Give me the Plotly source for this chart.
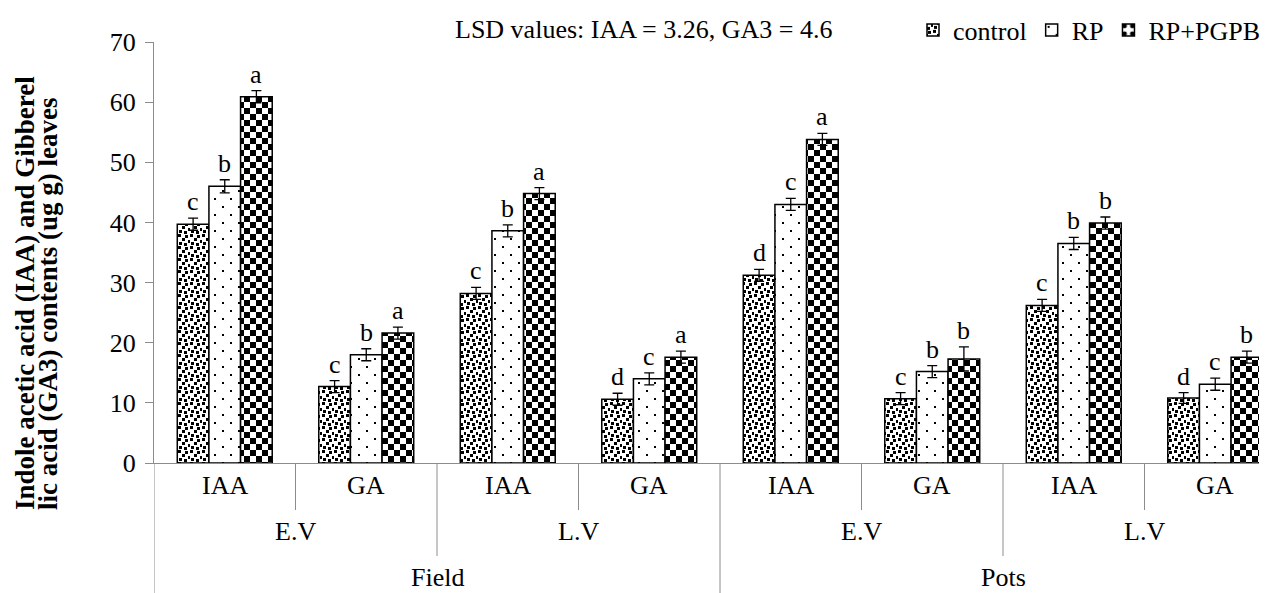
import json
import plotly.graph_objects as go

# ---------------- data ----------------
hormones = ["IAA", "GA", "IAA", "GA", "IAA", "GA", "IAA", "GA"]
varieties = ["E.V", "L.V", "E.V", "L.V"]
sites = ["Field", "Pots"]
series_names = ["control", "RP", "RP+PGPB"]

control = [39.7, 12.7, 28.2, 10.6, 31.2, 10.7, 26.2, 10.8]
rp = [46.0, 18.0, 38.6, 14.0, 43.0, 15.2, 36.5, 13.1]
rp_pgpb = [60.9, 21.6, 44.8, 17.6, 53.8, 17.3, 39.9, 17.6]

control_err = [1.0, 1.0, 1.0, 1.0, 1.0, 1.0, 1.0, 0.9]
rp_err = [1.1, 1.0, 1.0, 1.0, 1.0, 1.0, 1.0, 1.0]
rp_pgpb_err = [1.0, 1.0, 1.0, 1.0, 1.0, 2.0, 1.0, 1.0]

control_letters = ["c", "c", "c", "d", "d", "c", "c", "d"]
rp_letters = ["b", "b", "b", "c", "c", "b", "b", "c"]
rp_pgpb_letters = ["a", "a", "a", "a", "a", "b", "b", "b"]

lsd_text = "LSD values: IAA = 3.26, GA3 = 4.6"
ytitle_lines = ["Indole acetic acid (IAA) and Gibberel", "lic acid (GA3) contents (ug g) leaves"]

# ---------------- styling ----------------
FONT = "Liberation Serif, Times New Roman, serif"
FS = 26
W, H = 1267, 593
ML, MT, MB = 146, 34, 138
BARGAP = 0.329
GRAY = "#8c8c8c"

plot_h = H - MT - MB
plot_w = W - ML
x = list(range(len(hormones)))
xmax = -0.5 + plot_w / 141.5

def py(px):
    """pixel row -> paper y"""
    return (H - MB - px) / plot_h

def pxx(px):
    """pixel column -> paper x"""
    return (px - ML) / plot_w

series = [
    (series_names[0], control, control_err, control_letters, 7),
    (series_names[1], rp, rp_err, rp_letters, 9),
    (series_names[2], rp_pgpb, rp_pgpb_err, rp_pgpb_letters, 11),
]

fig = go.Figure()
for name, vals, errs, letters, psize in series:
    fig.add_trace(go.Bar(
        x=x, y=vals, name=name,
        marker=dict(color="white", line=dict(color="black", width=1.5),
                    pattern=dict(shape=".", size=psize, solidity=0.3,
                                 fgcolor="black", bgcolor="white", fillmode="replace")),
        error_y=dict(type="data", array=errs, visible=True, color="black",
                     thickness=1.3, width=5),
    ))

bw = (1 - BARGAP) / 3
annotations = []
for k, (name, vals, errs, letters, _) in enumerate(series):
    for i, (v, e, L) in enumerate(zip(vals, errs, letters)):
        annotations.append(dict(x=i + (k - 1) * bw, y=v + e, xref="x", yref="y",
                                text=L, showarrow=False, yanchor="bottom", yshift=0,
                                font=dict(family=FONT, size=FS, color="black")))

for i, h in enumerate(hormones):
    annotations.append(dict(x=i, y=py(477), xref="x", yref="paper", text=h,
                            showarrow=False, yanchor="middle",
                            font=dict(family=FONT, size=FS, color="black")))
for j, v in enumerate(varieties):
    annotations.append(dict(x=2 * j + 0.5, y=py(523), xref="x", yref="paper", text=v,
                            showarrow=False, yanchor="middle",
                            font=dict(family=FONT, size=FS, color="black")))
for j, s in enumerate(sites):
    annotations.append(dict(x=4 * j + 1.5, y=py(569), xref="x", yref="paper", text=s,
                            showarrow=False, yanchor="middle",
                            font=dict(family=FONT, size=FS, color="black")))

annotations.append(dict(x=pxx(635), y=py(22), xref="paper", yref="paper",
                        text=lsd_text, showarrow=False, xanchor="center", yanchor="middle",
                        font=dict(family=FONT, size=FS, color="black")))

for xpx, line in zip([17, 40], ytitle_lines):
    annotations.append(dict(x=pxx(xpx), y=py(504), xref="paper", yref="paper",
                            text="<b>" + line + "</b>", showarrow=False, textangle=-90,
                            xanchor="center", yanchor="bottom",
                            font=dict(family=FONT, size=27, color="black")))

shapes = []
def vline(xv, ypx_bottom):
    shapes.append(dict(type="line", xref="x", yref="paper", x0=xv, x1=xv,
                       y0=0, y1=py(ypx_bottom), line=dict(color=GRAY, width=1)))
for xv in [0.5, 2.5, 4.5, 6.5]:
    vline(xv, 502)
for xv in [1.5, 5.5]:
    vline(xv, 548)
vline(3.5, 600)
vline(-0.5, 600)

fig.update_layout(
    width=W, height=H,
    margin=dict(l=ML, r=0, t=MT, b=MB, autoexpand=False),
    paper_bgcolor="white", plot_bgcolor="white",
    barmode="group", bargap=BARGAP, bargroupgap=0,
    font=dict(family=FONT, size=FS, color="black"),
    showlegend=True,
    legend=dict(orientation="h", x=pxx(905), xanchor="left",
                y=py(22), yanchor="middle", font=dict(family=FONT, size=FS, color="black"),
                bgcolor="rgba(0,0,0,0)", traceorder="normal", itemwidth=30),
    xaxis=dict(range=[-0.5, xmax], showticklabels=False, ticks="", showgrid=False,
               zeroline=False, showline=True, linecolor=GRAY, linewidth=1, fixedrange=True),
    yaxis=dict(range=[0, 70], dtick=10, ticks="outside", ticklen=8, tickcolor=GRAY,
               showgrid=False, zeroline=False, showline=True, linecolor=GRAY, linewidth=1,
               ticklabelstandoff=4,
               tickfont=dict(family=FONT, size=FS, color="black")),
    annotations=annotations, shapes=shapes,
)

tiles = {
    7: {"s": 12, "r": [[0, 0, 3, 3], [7, 1, 3, 3], [4, 4, 3, 3], [10, 6, 2, 3], [1, 8, 3, 3], [6, 9, 3, 3]]},
    9: {"s": 16, "r": [[4, 4, 2, 2], [12, 12, 2, 2]]},
    11: {"s": 12, "r": [[0, 0, 6, 6], [6, 6, 6, 6]]},
}

post = """
var gd = document.getElementById('{plot_id}');
var NS = 'http://www.w3.org/2000/svg';
var TILES = %s;
function fixPatterns(){
  gd.querySelectorAll('pattern').forEach(function(p){
    var w = Math.round(parseFloat(p.getAttribute('width')));
    var spec = TILES[w];
    if(!spec) return;
    while(p.firstChild) p.removeChild(p.firstChild);
    p.setAttribute('width', spec.s); p.setAttribute('height', spec.s);
    p.removeAttribute('patternTransform');
    var bg = document.createElementNS(NS, 'rect');
    bg.setAttribute('width', spec.s); bg.setAttribute('height', spec.s);
    bg.setAttribute('fill', '#ffffff'); p.appendChild(bg);
    spec.r.forEach(function(q){
      var r = document.createElementNS(NS, 'rect');
      r.setAttribute('x', q[0]); r.setAttribute('y', q[1]);
      r.setAttribute('width', q[2]); r.setAttribute('height', q[3]);
      r.setAttribute('fill', '#000000'); p.appendChild(r);
    });
  });
}
fixPatterns();
""" % json.dumps(tiles)

fig.write_html("out.html", post_script=post, config={"displayModeBar": False})
